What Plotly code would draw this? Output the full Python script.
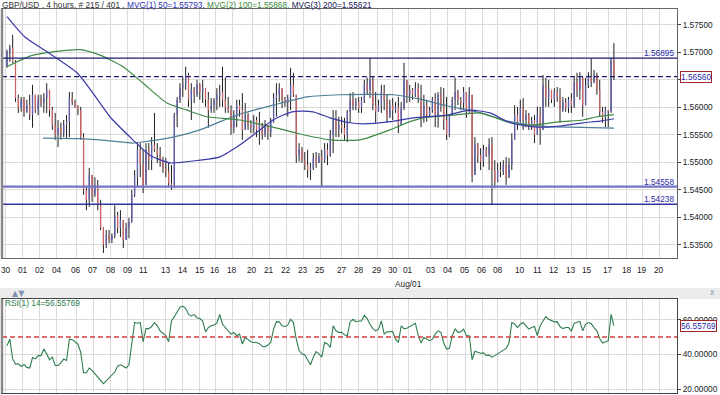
import plotly.graph_objects as go

# ---------------- data ----------------
bar_open = [
    1.5675, 1.5701, 1.5708, 1.5683, 1.5617, 1.5599, 1.5614, 1.5592, 1.5604, 1.5586,
    1.5623, 1.5595, 1.5614, 1.5608, 1.5617, 1.5632, 1.5595, 1.5568, 1.5550, 1.5563,
    1.5553, 1.5568, 1.5574, 1.5617, 1.5610, 1.5603, 1.5595, 1.5546, 1.5450, 1.5432,
    1.5477, 1.5441, 1.5459, 1.5422, 1.5381, 1.5350, 1.5368, 1.5359, 1.5366, 1.5404,
    1.5381, 1.5395, 1.5359, 1.5381, 1.5392, 1.5441, 1.5477, 1.5523, 1.5495, 1.5459,
    1.5523, 1.5504, 1.5532, 1.5523, 1.5513, 1.5501, 1.5490, 1.5483, 1.5462, 1.5459,
    1.5586, 1.5614, 1.5635, 1.5641, 1.5659, 1.5614, 1.5632, 1.5623, 1.5641, 1.5628,
    1.5635, 1.5614, 1.5595, 1.5604, 1.5614, 1.5623, 1.5628, 1.5614, 1.5599, 1.5595,
    1.5563, 1.5586, 1.5604, 1.5595, 1.5559, 1.5586, 1.5568, 1.5563, 1.5577, 1.5559,
    1.5568, 1.5550, 1.5568, 1.5555, 1.5574, 1.5617, 1.5623, 1.5635, 1.5614, 1.5608,
    1.5617, 1.5641, 1.5623, 1.5513, 1.5523, 1.5504, 1.5495, 1.5486, 1.5490, 1.5508,
    1.5499, 1.5510, 1.5504, 1.5523, 1.5513, 1.5550, 1.5577, 1.5559, 1.5568, 1.5563,
    1.5550, 1.5592, 1.5614, 1.5604, 1.5610, 1.5599, 1.5614, 1.5641, 1.5632, 1.5650,
    1.5604, 1.5592, 1.5604, 1.5628, 1.5614, 1.5581, 1.5604, 1.5595, 1.5601, 1.5568,
    1.5599, 1.5650, 1.5623, 1.5632, 1.5623, 1.5635, 1.5617, 1.5581, 1.5604, 1.5586,
    1.5595, 1.5614, 1.5586, 1.5623, 1.5604, 1.5577, 1.5550, 1.5586, 1.5614, 1.5628,
    1.5614, 1.5608, 1.5628, 1.5592, 1.5623, 1.5477, 1.5532, 1.5513, 1.5501, 1.5523,
    1.5513, 1.5532, 1.5486, 1.5464, 1.5486, 1.5483, 1.5495, 1.5472, 1.5495, 1.5541,
    1.5586, 1.5574, 1.5599, 1.5577, 1.5586, 1.5568, 1.5577, 1.5550, 1.5586, 1.5559,
    1.5641, 1.5617, 1.5632, 1.5614, 1.5628, 1.5619, 1.5595, 1.5610, 1.5599, 1.5614,
    1.5604, 1.5646, 1.5632, 1.5654, 1.5604, 1.5641, 1.5654, 1.5646, 1.5659, 1.5632,
    1.5592, 1.5581, 1.5595, 1.5592, 1.5686,
]
bar_high = [
    1.5705, 1.5714, 1.5732, 1.5686, 1.5623, 1.5619, 1.5619, 1.5614, 1.5623, 1.5641,
    1.5623, 1.5623, 1.5623, 1.5626, 1.5644, 1.5632, 1.5601, 1.5590, 1.5577, 1.5572,
    1.5577, 1.5586, 1.5628, 1.5628, 1.5614, 1.5604, 1.5601, 1.5553, 1.5455, 1.5490,
    1.5477, 1.5473, 1.5468, 1.5432, 1.5382, 1.5377, 1.5377, 1.5371, 1.5422, 1.5410,
    1.5413, 1.5395, 1.5390, 1.5399, 1.5450, 1.5486, 1.5535, 1.5535, 1.5523, 1.5535,
    1.5535, 1.5546, 1.5590, 1.5535, 1.5528, 1.5510, 1.5508, 1.5499, 1.5495, 1.5590,
    1.5619, 1.5644, 1.5655, 1.5674, 1.5663, 1.5644, 1.5637, 1.5650, 1.5644, 1.5650,
    1.5635, 1.5628, 1.5617, 1.5617, 1.5635, 1.5641, 1.5674, 1.5655, 1.5619, 1.5604,
    1.5595, 1.5614, 1.5614, 1.5626, 1.5608, 1.5590, 1.5577, 1.5586, 1.5583, 1.5592,
    1.5572, 1.5577, 1.5568, 1.5581, 1.5626, 1.5644, 1.5644, 1.5635, 1.5619, 1.5623,
    1.5672, 1.5663, 1.5623, 1.5535, 1.5528, 1.5519, 1.5523, 1.5499, 1.5517, 1.5519,
    1.5517, 1.5523, 1.5535, 1.5535, 1.5559, 1.5595, 1.5595, 1.5583, 1.5583, 1.5581,
    1.5595, 1.5626, 1.5628, 1.5617, 1.5619, 1.5619, 1.5650, 1.5654, 1.5690, 1.5655,
    1.5628, 1.5614, 1.5641, 1.5641, 1.5623, 1.5614, 1.5617, 1.5610, 1.5619, 1.5610,
    1.5681, 1.5650, 1.5641, 1.5635, 1.5646, 1.5644, 1.5641, 1.5623, 1.5614, 1.5601,
    1.5619, 1.5626, 1.5628, 1.5637, 1.5635, 1.5619, 1.5586, 1.5619, 1.5654, 1.5632,
    1.5619, 1.5637, 1.5628, 1.5637, 1.5623, 1.5546, 1.5535, 1.5526, 1.5532, 1.5528,
    1.5544, 1.5546, 1.5504, 1.5499, 1.5501, 1.5504, 1.5510, 1.5508, 1.5553, 1.5604,
    1.5601, 1.5614, 1.5617, 1.5595, 1.5590, 1.5583, 1.5586, 1.5601, 1.5601, 1.5659,
    1.5654, 1.5650, 1.5632, 1.5635, 1.5637, 1.5635, 1.5619, 1.5617, 1.5619, 1.5626,
    1.5655, 1.5663, 1.5664, 1.5655, 1.5654, 1.5664, 1.5689, 1.5668, 1.5663, 1.5650,
    1.5601, 1.5601, 1.5595, 1.5690, 1.5717,
]
bar_low = [
    1.5672, 1.5683, 1.5681, 1.5610, 1.5590, 1.5592, 1.5583, 1.5590, 1.5577, 1.5563,
    1.5590, 1.5586, 1.5601, 1.5590, 1.5590, 1.5583, 1.5559, 1.5541, 1.5528, 1.5541,
    1.5546, 1.5544, 1.5546, 1.5604, 1.5599, 1.5586, 1.5541, 1.5441, 1.5413, 1.5419,
    1.5428, 1.5437, 1.5413, 1.5377, 1.5335, 1.5344, 1.5353, 1.5353, 1.5362, 1.5371,
    1.5364, 1.5344, 1.5359, 1.5362, 1.5390, 1.5437, 1.5455, 1.5473, 1.5444, 1.5459,
    1.5486, 1.5486, 1.5519, 1.5499, 1.5492, 1.5481, 1.5473, 1.5455, 1.5450, 1.5453,
    1.5564, 1.5608, 1.5619, 1.5632, 1.5601, 1.5577, 1.5608, 1.5619, 1.5614, 1.5608,
    1.5601, 1.5563, 1.5590, 1.5590, 1.5595, 1.5601, 1.5601, 1.5590, 1.5590, 1.5550,
    1.5553, 1.5564, 1.5583, 1.5541, 1.5559, 1.5559, 1.5553, 1.5553, 1.5546, 1.5532,
    1.5541, 1.5546, 1.5541, 1.5546, 1.5572, 1.5583, 1.5610, 1.5599, 1.5601, 1.5583,
    1.5595, 1.5619, 1.5499, 1.5501, 1.5499, 1.5486, 1.5472, 1.5468, 1.5486, 1.5490,
    1.5499, 1.5456, 1.5499, 1.5495, 1.5510, 1.5517, 1.5546, 1.5546, 1.5553, 1.5541,
    1.5537, 1.5572, 1.5595, 1.5595, 1.5590, 1.5590, 1.5608, 1.5623, 1.5617, 1.5595,
    1.5572, 1.5592, 1.5590, 1.5595, 1.5572, 1.5581, 1.5577, 1.5590, 1.5553, 1.5568,
    1.5595, 1.5608, 1.5610, 1.5614, 1.5619, 1.5608, 1.5564, 1.5572, 1.5574, 1.5583,
    1.5590, 1.5564, 1.5563, 1.5592, 1.5559, 1.5541, 1.5546, 1.5586, 1.5595, 1.5604,
    1.5595, 1.5595, 1.5581, 1.5590, 1.5464, 1.5477, 1.5499, 1.5486, 1.5492, 1.5510,
    1.5486, 1.5424, 1.5453, 1.5464, 1.5473, 1.5477, 1.5459, 1.5472, 1.5486, 1.5541,
    1.5559, 1.5572, 1.5559, 1.5564, 1.5559, 1.5559, 1.5535, 1.5550, 1.5532, 1.5559,
    1.5601, 1.5601, 1.5608, 1.5601, 1.5610, 1.5572, 1.5592, 1.5592, 1.5590, 1.5590,
    1.5599, 1.5619, 1.5614, 1.5583, 1.5604, 1.5635, 1.5637, 1.5644, 1.5623, 1.5583,
    1.5572, 1.5564, 1.5564, 1.5590, 1.5650,
]
bar_close = [
    1.5701, 1.5708, 1.5683, 1.5617, 1.5599, 1.5614, 1.5592, 1.5604, 1.5586, 1.5623,
    1.5595, 1.5614, 1.5608, 1.5617, 1.5632, 1.5595, 1.5568, 1.5550, 1.5563, 1.5553,
    1.5568, 1.5574, 1.5617, 1.5610, 1.5603, 1.5595, 1.5546, 1.5450, 1.5432, 1.5477,
    1.5441, 1.5459, 1.5422, 1.5381, 1.5350, 1.5368, 1.5359, 1.5366, 1.5404, 1.5381,
    1.5395, 1.5359, 1.5381, 1.5392, 1.5441, 1.5477, 1.5523, 1.5495, 1.5459, 1.5523,
    1.5504, 1.5532, 1.5523, 1.5513, 1.5501, 1.5490, 1.5483, 1.5462, 1.5459, 1.5586,
    1.5614, 1.5635, 1.5641, 1.5659, 1.5614, 1.5632, 1.5623, 1.5641, 1.5628, 1.5635,
    1.5614, 1.5595, 1.5604, 1.5614, 1.5623, 1.5628, 1.5614, 1.5599, 1.5595, 1.5563,
    1.5586, 1.5604, 1.5595, 1.5559, 1.5586, 1.5568, 1.5563, 1.5577, 1.5559, 1.5568,
    1.5550, 1.5568, 1.5555, 1.5574, 1.5617, 1.5623, 1.5635, 1.5614, 1.5608, 1.5617,
    1.5641, 1.5623, 1.5513, 1.5523, 1.5504, 1.5495, 1.5486, 1.5490, 1.5508, 1.5499,
    1.5510, 1.5504, 1.5523, 1.5513, 1.5550, 1.5577, 1.5559, 1.5568, 1.5563, 1.5550,
    1.5592, 1.5614, 1.5604, 1.5610, 1.5599, 1.5614, 1.5641, 1.5632, 1.5650, 1.5604,
    1.5592, 1.5604, 1.5628, 1.5614, 1.5581, 1.5604, 1.5595, 1.5601, 1.5568, 1.5599,
    1.5650, 1.5623, 1.5632, 1.5623, 1.5635, 1.5617, 1.5581, 1.5604, 1.5586, 1.5595,
    1.5614, 1.5586, 1.5623, 1.5604, 1.5577, 1.5550, 1.5586, 1.5614, 1.5628, 1.5614,
    1.5608, 1.5628, 1.5592, 1.5623, 1.5477, 1.5532, 1.5513, 1.5501, 1.5523, 1.5513,
    1.5532, 1.5486, 1.5464, 1.5486, 1.5483, 1.5495, 1.5472, 1.5495, 1.5541, 1.5586,
    1.5574, 1.5599, 1.5577, 1.5586, 1.5568, 1.5577, 1.5550, 1.5586, 1.5559, 1.5641,
    1.5617, 1.5632, 1.5614, 1.5628, 1.5619, 1.5595, 1.5610, 1.5599, 1.5614, 1.5604,
    1.5646, 1.5632, 1.5654, 1.5604, 1.5641, 1.5654, 1.5646, 1.5659, 1.5632, 1.5592,
    1.5581, 1.5595, 1.5592, 1.5686, 1.5656,
]
rsi_values = [
    45.0, 48.8, 37.4, 34.4, 34.6, 33.0, 34.2, 32.5, 32.1, 38.2,
    37.4, 39.3, 39.3, 43.1, 40.3, 36.9, 38.4, 33.6, 33.6, 35.1,
    37.4, 36.5, 48.8, 48.5, 47.3, 46.0, 41.2, 29.4, 29.4, 32.1,
    30.8, 28.9, 27.5, 25.6, 23.1, 24.7, 26.4, 27.9, 29.8, 33.2,
    34.0, 33.2, 32.1, 34.0, 46.9, 58.4, 58.0, 58.4, 47.3, 54.9,
    54.9, 56.1, 58.4, 56.5, 53.6, 52.3, 50.8, 47.3, 59.3, 61.8,
    65.0, 67.3, 67.9, 66.6, 63.1, 62.2, 63.0, 61.2, 60.7, 59.3,
    53.0, 55.5, 56.5, 57.0, 58.0, 63.1, 57.4, 55.5, 53.6, 51.7,
    52.7, 50.8, 51.7, 46.0, 49.8, 48.3, 47.3, 46.9, 46.9, 46.2,
    44.7, 44.5, 45.4, 46.9, 54.6, 58.9, 58.8, 56.5, 56.1, 56.9,
    60.3, 58.4, 48.8, 42.2, 40.3, 39.7, 36.5, 34.0, 38.4, 41.6,
    40.3, 38.4, 46.9, 46.0, 44.1, 56.5, 53.6, 52.7, 52.7, 51.3,
    50.8, 58.9, 60.3, 58.9, 59.3, 59.3, 62.6, 60.7, 57.4, 54.9,
    53.6, 54.6, 59.3, 51.7, 53.0, 53.0, 53.2, 48.8, 46.9, 56.5,
    54.9, 55.1, 56.1, 56.9, 58.0, 51.1, 46.6, 49.8, 48.8, 47.9,
    48.8, 51.7, 53.6, 52.7, 46.6, 43.1, 43.5, 50.8, 54.9, 52.7,
    53.0, 54.6, 50.8, 50.8, 36.9, 41.8, 41.2, 40.7, 40.9, 39.3,
    39.7, 38.4, 39.3, 40.3, 41.6, 42.2, 43.5, 46.6, 58.4, 57.6,
    55.5, 57.4, 58.4, 56.5, 54.6, 55.5, 56.1, 50.8, 56.5, 59.3,
    61.8, 60.3, 59.3, 58.8, 58.9, 56.1, 54.9, 55.5, 55.5, 53.6,
    58.0, 58.4, 59.1, 53.6, 57.4, 58.4, 57.8, 55.5, 53.6, 49.2,
    46.6, 47.3, 47.9, 63.1, 56.55769,
]

ma50_idx = [0, 6.3, 14.1, 24.7, 30.3, 36.3, 44.4, 50.4, 57.5, 68, 75.1, 82.2, 89.2, 93.8,
            100.5, 107.9, 113.9, 120.9, 125.5, 135, 143.2, 155.1, 163.3, 170.3, 177.4,
            186.9, 195, 203.1, 209.1, 214]
ma50_val = [1.5765, 1.5728, 1.5701, 1.5663, 1.5626, 1.5583, 1.5541, 1.5513, 1.5499, 1.5504,
            1.5510, 1.5532, 1.5559, 1.5577, 1.5592, 1.5592, 1.5581, 1.5572, 1.5570, 1.5574,
            1.5581, 1.5586, 1.5595, 1.5590, 1.5572, 1.5564, 1.5566, 1.5572, 1.5575, 1.55793]
ma100_idx = [0, 9.2, 25.7, 32.8, 40.9, 48, 56.4, 63.5, 70.5, 82.2, 93.8, 102.3, 113.9, 124.5,
             135, 142.1, 146.7, 157.3, 166.8, 177.4, 185.5, 195, 203.1, 208, 214]
ma100_val = [1.5674, 1.5695, 1.5705, 1.5695, 1.5674, 1.5644, 1.5608, 1.5595, 1.5583, 1.5577,
             1.5564, 1.5553, 1.5541, 1.5541, 1.5559, 1.5574, 1.5581, 1.5586, 1.5590, 1.5572,
             1.5568, 1.5574, 1.5577, 1.5583, 1.55868]
ma200_idx = [12.7, 25.7, 36.3, 44.4, 50.4, 58.5, 68, 75.1, 82.2, 93.8, 105.8, 117.4, 136.1,
             145.6, 155.1, 166.8, 177.4, 187.9, 198.5, 214]
ma200_val = [1.5544, 1.5543, 1.5539, 1.5535, 1.5539, 1.5546, 1.5559, 1.5574, 1.5588, 1.5604,
             1.5619, 1.5623, 1.5623, 1.5615, 1.5603, 1.5590, 1.5574, 1.5566, 1.5564, 1.55621]

level_solid = [1.56895, 1.54558, 1.54238]
level_dashed = 1.56560
last_price = 1.56560
last_rsi = 56.55769

date_tick_pos = [-0.5, 5.5, 11.5, 17.5, 24.5, 30.5, 36.5, 42.5, 48, 56, 62, 68, 73.5, 79.5,
                 86.5, 92.5, 98.5, 104.5, 110.5, 118, 124, 130.5, 136, 141.5, 149.5, 155.5,
                 161.5, 167.5, 173, 181, 187, 193, 199, 204.5, 212, 218.5, 224, 230]
date_tick_text = ["30", "01", "02", "04", "06", "07", "08", "09", "11", "13", "14", "15", "16",
                  "18", "20", "21", "22", "23", "25", "27", "28", "29", "30", "01",
                  "03", "04", "05", "06", "08", "10", "11", "12", "13", "15", "17", "18", "19", "20"]
month_label_pos = 141.5
month_label_text = "Aug/01"
price_ticks = [1.535, 1.540, 1.545, 1.550, 1.555, 1.560, 1.565, 1.570, 1.575]
price_tick_text = ["1.53500", "1.54000", "1.54500", "1.55000", "1.55500", "1.56000", "",
                   "1.57000", "1.57500"]
rsi_ticks = [20, 40, 60]

# ---------------- figure ----------------
FONT = "Liberation Sans, Arial, sans-serif"
FS = 8.3
bars = list(range(len(bar_close)))

wx, wy, ux, uy, dx, dy = [], [], [], [], [], []
for i in bars:
    o, h, l, c = bar_open[i], bar_high[i], bar_low[i], bar_close[i]
    wx += [i, i, None]
    wy += [min(l, o, c), max(h, o, c), None]
    if c > o:
        ux += [i, i, None]; uy += [o, c, None]
    elif c < o:
        dx += [i, i, None]; dy += [o, c, None]

fig = go.Figure()
fig.add_trace(go.Scatter(x=wx, y=wy, mode="lines", line=dict(color="#202020", width=1),
                         hoverinfo="skip", xaxis="x", yaxis="y"))
fig.add_trace(go.Scatter(x=ux, y=uy, mode="lines", line=dict(color="#5c5cb0", width=1.3),
                         hoverinfo="skip", xaxis="x", yaxis="y"))
fig.add_trace(go.Scatter(x=dx, y=dy, mode="lines", line=dict(color="#d06464", width=1.3),
                         hoverinfo="skip", xaxis="x", yaxis="y"))
fig.add_trace(go.Scatter(x=ma200_idx, y=ma200_val, mode="lines",
                         line=dict(color="#4f7f98", width=1.2, shape="spline", smoothing=0.6),
                         xaxis="x", yaxis="y"))
fig.add_trace(go.Scatter(x=ma100_idx, y=ma100_val, mode="lines",
                         line=dict(color="#3f8a46", width=1.2, shape="spline", smoothing=0.6),
                         xaxis="x", yaxis="y"))
fig.add_trace(go.Scatter(x=ma50_idx, y=ma50_val, mode="lines",
                         line=dict(color="#3a3aa8", width=1.2, shape="spline", smoothing=0.6),
                         xaxis="x", yaxis="y"))
fig.add_trace(go.Scatter(x=bars, y=rsi_values, mode="lines",
                         line=dict(color="#2e7d4f", width=1.1), xaxis="x2", yaxis="y2"))

H = 395
PLOT_TOP, PLOT_BOT = 9, 393
span = PLOT_BOT - PLOT_TOP
def py(pix):
    return (PLOT_BOT - pix) / span

main_dom = [py(258), 1]
rsi_dom = [0, py(299)]

shapes = []
# gray separator band between panels
shapes.append(dict(type="rect", xref="paper", yref="paper", x0=-0.004, x1=1.07,
                   y0=py(299), y1=py(288), fillcolor="#ececec", line=dict(width=0), layer="below"))
# level lines
level_cols = ["#1c1c70", "#7474c4", "#3434a0"]
level_w = [1.3, 2.2, 1.3]
for lv, col, w in zip(level_solid, level_cols, level_w):
    shapes.append(dict(type="line", xref="x domain", yref="y", x0=0, x1=1, y0=lv, y1=lv,
                       line=dict(color=col, width=w)))
shapes.append(dict(type="line", xref="x domain", yref="y", x0=0, x1=1, y0=level_dashed,
                   y1=level_dashed, line=dict(color="#1c1c70", width=1.3, dash="5px,3px")))
# RSI 50 line
shapes.append(dict(type="line", xref="x2 domain", yref="y2", x0=0, x1=1, y0=50, y1=50,
                   line=dict(color="#d04040", width=1.5, dash="5px,3px")))
# thick left borders
shapes.append(dict(type="line", xref="x domain", yref="y domain", x0=0, x1=0, y0=0, y1=1,
                   line=dict(color="#8a8a8a", width=2.5)))
shapes.append(dict(type="line", xref="x2 domain", yref="y2 domain", x0=0, x1=0, y0=0, y1=1,
                   line=dict(color="#8a8a8a", width=2.5)))

ann = []
title_html = ("GBP/USD , 4 hours, # 215 / 401 , "
              "<span style='color:#3030b0'>MVG(1) 50=1.55793, </span>"
              "<span style='color:#3a8a3a'>MVG(2) 100=1.55868, </span>"
              "<span style='color:#20205a'>MVG(3) 200=1.55621</span>")
ann.append(dict(xref="paper", yref="paper", x=0, y=1 + 4.5 / span, xanchor="left", yanchor="middle",
                text=title_html, showarrow=False, font=dict(size=FS, color="#333333", family=FONT),
                xshift=-2))
# date labels under the price panel
for pos, txt in zip(date_tick_pos, date_tick_text):
    ann.append(dict(xref="x", yref="paper", x=pos, y=py(270), xanchor="center", yanchor="middle",
                    text=txt, showarrow=False, font=dict(size=FS, color="#222222", family=FONT)))
ann.append(dict(xref="x", yref="paper", x=month_label_pos, y=py(284), xanchor="center",
                yanchor="middle", text=month_label_text, showarrow=False,
                font=dict(size=FS, color="#222222", family=FONT)))
for lv in level_solid:
    ann.append(dict(xref="x domain", yref="y", x=1, y=lv, xanchor="right", yanchor="bottom",
                    text=f"{lv:.5f}", showarrow=False, font=dict(size=FS, color="#2a2aa8", family=FONT),
                    xshift=-1, yshift=-2))
ann.append(dict(xref="paper", yref="y", x=1, y=last_price, xanchor="left", yanchor="middle",
                text=f"{last_price:.5f}", showarrow=False, bgcolor="white", bordercolor="#a02828",
                borderwidth=1, borderpad=0, font=dict(size=FS, color="#2a2aa8", family=FONT), xshift=3))
ann.append(dict(xref="paper", yref="y2", x=1, y=last_rsi, xanchor="left", yanchor="middle",
                text=f"{last_rsi:.5f}", showarrow=False, bgcolor="white", bordercolor="#a02828",
                borderwidth=1, borderpad=0, font=dict(size=FS, color="#2a2aa8", family=FONT), xshift=3))
ann.append(dict(xref="paper", yref="paper", x=0, y=py(303), xanchor="left", yanchor="middle",
                text=f"RSI(1) 14={last_rsi:.5f}", showarrow=False,
                font=dict(size=FS, color="#2a7a4a", family=FONT), xshift=1))
ann.append(dict(xref="paper", yref="paper", x=8 / 675, y=py(293.5), xanchor="left", yanchor="middle",
                text="▲▼", showarrow=False, font=dict(size=8, color="#7f93b0", family="DejaVu Sans")))
ann.append(dict(xref="paper", yref="paper", x=711 / 675, y=py(292), xanchor="center", yanchor="middle",
                text="x", showarrow=False, font=dict(size=9, color="#8a9ab0", family=FONT)))

grid_c = "#dadada"
fig.update_layout(
    width=720, height=H,
    margin=dict(l=2, r=43, t=PLOT_TOP, b=H - PLOT_BOT),
    paper_bgcolor="white", plot_bgcolor="white",
    showlegend=False,
    font=dict(family=FONT, size=FS, color="#222222"),
    xaxis=dict(domain=[0, 1], anchor="y", range=[-1.76, 236.25], tickmode="array",
               tickvals=date_tick_pos, showticklabels=False, ticks="",
               showgrid=True, gridcolor=grid_c, gridwidth=1, zeroline=False,
               showline=True, mirror=True, linecolor="#666666", linewidth=1),
    yaxis=dict(domain=main_dom, anchor="x", range=[1.5326, 1.5779], side="right",
               tickmode="array", tickvals=price_ticks, ticktext=price_tick_text,
               ticks="outside", ticklen=3, tickcolor="#444444",
               showgrid=True, gridcolor=grid_c, zeroline=False,
               showline=True, mirror=True, linecolor="#666666", linewidth=1),
    xaxis2=dict(domain=[0, 1], anchor="y2", matches="x", tickmode="array",
                tickvals=date_tick_pos, showticklabels=False, ticks="",
                showgrid=True, gridcolor=grid_c, zeroline=False,
                showline=True, mirror=True, linecolor="#444444", linewidth=1),
    yaxis2=dict(domain=rsi_dom, anchor="x2", range=[17.7, 72.0], side="right",
                tickmode="array", tickvals=rsi_ticks, tickformat=".5f",
                ticks="outside", ticklen=3, tickcolor="#444444",
                showgrid=True, gridcolor=grid_c, zeroline=False,
                showline=True, mirror=True, linecolor="#444444", linewidth=1),
    shapes=shapes,
    annotations=ann,
)

fig.write_html(
    "out.html",
    config={"displayModeBar": False},
    post_script="document.body.style.margin='0';document.body.style.padding='0';"
                "document.body.style.overflow='hidden';",
)
